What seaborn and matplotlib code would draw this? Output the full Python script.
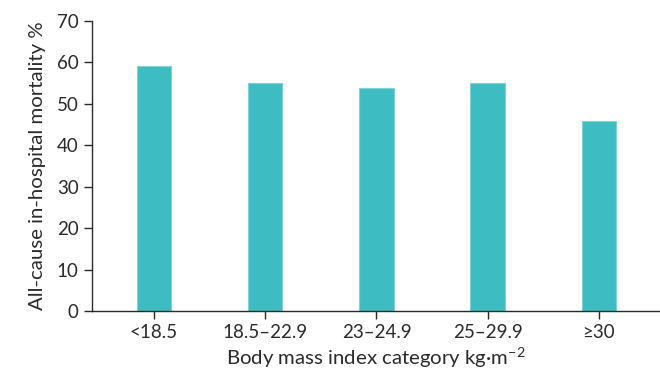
import matplotlib
matplotlib.use("Agg")
import matplotlib.pyplot as plt
import seaborn as sns
import pandas as pd

categories = ["<18.5", "18.5–22.9", "23–24.9", "25–29.9", "≥30"]
mortality = [59.0, 55.0, 53.7, 55.0, 45.8]
y_ticks = [0, 10, 20, 30, 40, 50, 60, 70]

sns.set_theme(style="ticks")
plt.rcParams['font.family'] = ['Lato', 'DejaVu Sans']
plt.rcParams['mathtext.fontset'] = 'custom'
plt.rcParams['mathtext.rm'] = 'Lato'
plt.rcParams['mathtext.it'] = 'Lato'

text_color = "#2a2a2a"
bar_color = "#3dbdc1"

df = pd.DataFrame({"cat": categories, "val": mortality})

fig = plt.figure(figsize=(6.6, 3.73), dpi=100)
ax = fig.add_axes([0.139, 0.166, 0.861, 0.779])
sns.barplot(data=df, x="cat", y="val", color=bar_color, saturation=1,
            width=0.31, edgecolor="#7fd3d6", linewidth=0.8, ax=ax)

ax.set_ylim(0, 70)
ax.set_yticks(y_ticks)
ax.set_xlim(-0.56, 4.55)
sns.despine(ax=ax)
for s in ["left", "bottom"]:
    ax.spines[s].set_color(text_color)
    ax.spines[s].set_linewidth(1.0)
ax.tick_params(axis="both", colors=text_color, labelcolor=text_color,
               labelsize=13.5, length=6, width=1.0, direction="out")
ax.set_xlabel("Body mass index category kg·m$^{−2}$", fontsize=14.7,
              color=text_color, labelpad=3)
ax.set_ylabel("All-cause in-hospital mortality %", fontsize=14.7,
              color=text_color, labelpad=8)

fig.savefig("out.png", dpi=100)
